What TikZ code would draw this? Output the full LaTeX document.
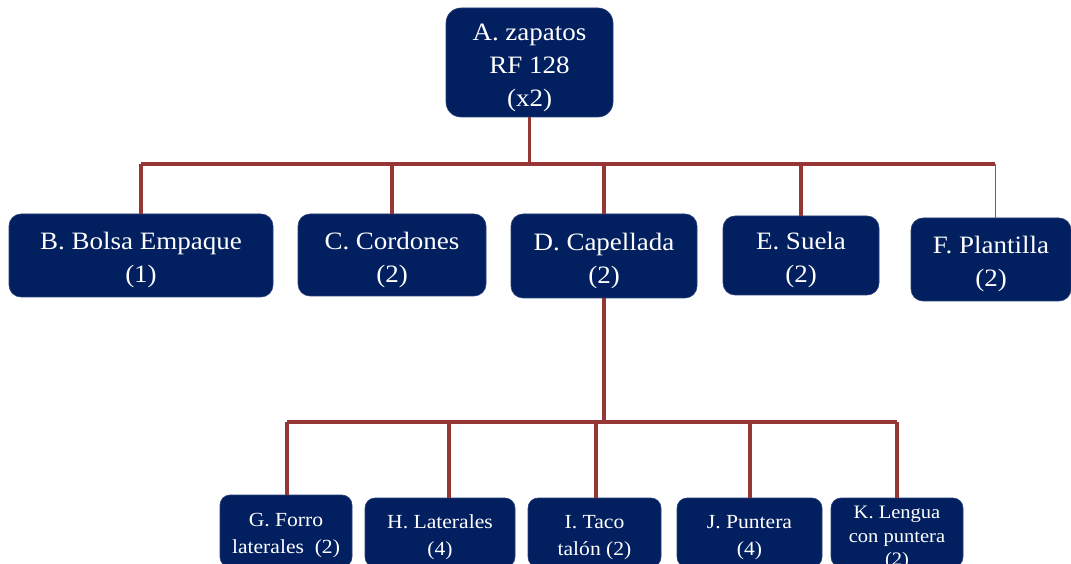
\documentclass[tikz,border=0pt]{standalone}
\usepackage{fontspec}
\setmainfont[FakeStretch=1.08]{Liberation Serif}
\definecolor{navy}{RGB}{2,32,96}
\definecolor{navyedge}{RGB}{40,62,120}
\definecolor{conred}{RGB}{149,55,53}
\definecolor{thinblue}{RGB}{70,100,175}
\newcommand\lbl[2][6pt]{\raisebox{0pt}[\dimexpr\height+4pt\relax][\dimexpr\depth-#1\relax]{\begin{tabular}{@{}c@{}}#2\end{tabular}}}
\begin{document}
\begin{tikzpicture}[x=1pt,y=1pt,
  box/.style={draw=navyedge,line width=0.6pt,fill=navy,text=white,align=center,inner sep=0pt},
  topbox/.style={box,rounded corners=15pt,font=\fontsize{25}{33}\selectfont},
  midbox/.style={box,rounded corners=12pt,font=\fontsize{25}{33}\selectfont},
  lowbox/.style={box,rounded corners=10pt,font=\fontsize{20}{27}\selectfont},
  conn/.style={draw=conred,line width=3.2pt},
  thinconn/.style={draw=thinblue,line width=1pt}]
\useasboundingbox (0,0) rectangle (1071,563);
\clip (0,0) rectangle (1071,563);
% top
\node[topbox,minimum width=167,minimum height=109] (A) at (529.5,500.5) {\lbl[4pt]{A. zapatos\\RF 128\\(x2)}};
% middle row
\node[midbox,minimum width=264,minimum height=83] (B) at (141,307.5) {\lbl[4pt]{B. Bolsa Empaque\\(1)}};
\node[midbox,minimum width=188,minimum height=82] (C) at (392,308) {\lbl[4pt]{C. Cordones\\(2)}};
\node[midbox,minimum width=186,minimum height=84] (D) at (604,307) {\lbl[4pt]{D. Capellada\\(2)}};
\node[midbox,minimum width=156,minimum height=79] (E) at (801,307.5) {\lbl[4pt]{E. Suela\\(2)}};
\node[midbox,minimum width=160,minimum height=83] (F) at (991,303.5) {\lbl[4pt]{F. Plantilla\\(2)}};
% bottom row
\node[lowbox,minimum width=132,minimum height=72] (G) at (286,32) {\lbl[4pt]{G. Forro\\laterales\ \ (2)}};
\node[lowbox,minimum width=150,minimum height=69] (H) at (440,30.5) {\lbl[4pt]{H. Laterales\\(4)}};
\node[lowbox,minimum width=133,minimum height=69] (I) at (594.5,30.5) {\lbl[4pt]{I. Taco\\tal\'on (2)}};
\node[lowbox,minimum width=145,minimum height=69] (J) at (749.5,30.5) {\lbl[4pt]{J. Puntera\\(4)}};
\node[lowbox,minimum width=132,minimum height=69,font=\fontsize{19}{23.5}\selectfont] (K) at (897,30.5) {\lbl[6pt]{K. Lengua\\con puntera\\(2)}};
% upper bus
\coordinate (busL) at (141,399);
\coordinate (busR) at (995,399);
\draw[conn] (A.south) -- (A.south |- busL);
\draw[conn] (busL) -- (busR);
\draw[conn] (busL) -- (B.north);
\draw[conn] (C.north |- busL) -- (C.north);
\draw[conn] (D.north |- busL) -- (D.north);
\draw[conn] (E.north |- busL) -- (E.north);
\draw[thinconn] (busR) -- (busR |- F.north);
% lower bus
\coordinate (lbusL) at (287,141);
\coordinate (lbusR) at (897,141);
\coordinate (hx) at (449,141);
\coordinate (ix) at (596,141);
\coordinate (jx) at (750,141);
\draw[conn] (D.south) -- (D.south |- lbusL);
\draw[conn] (lbusL) -- (lbusR);
\draw[conn] (lbusL) -- (lbusL |- G.north);
\draw[conn] (hx) -- (hx |- H.north);
\draw[conn] (ix) -- (ix |- I.north);
\draw[conn] (jx) -- (jx |- J.north);
\draw[conn] (lbusR) -- (K.north);
\end{tikzpicture}
\end{document}
